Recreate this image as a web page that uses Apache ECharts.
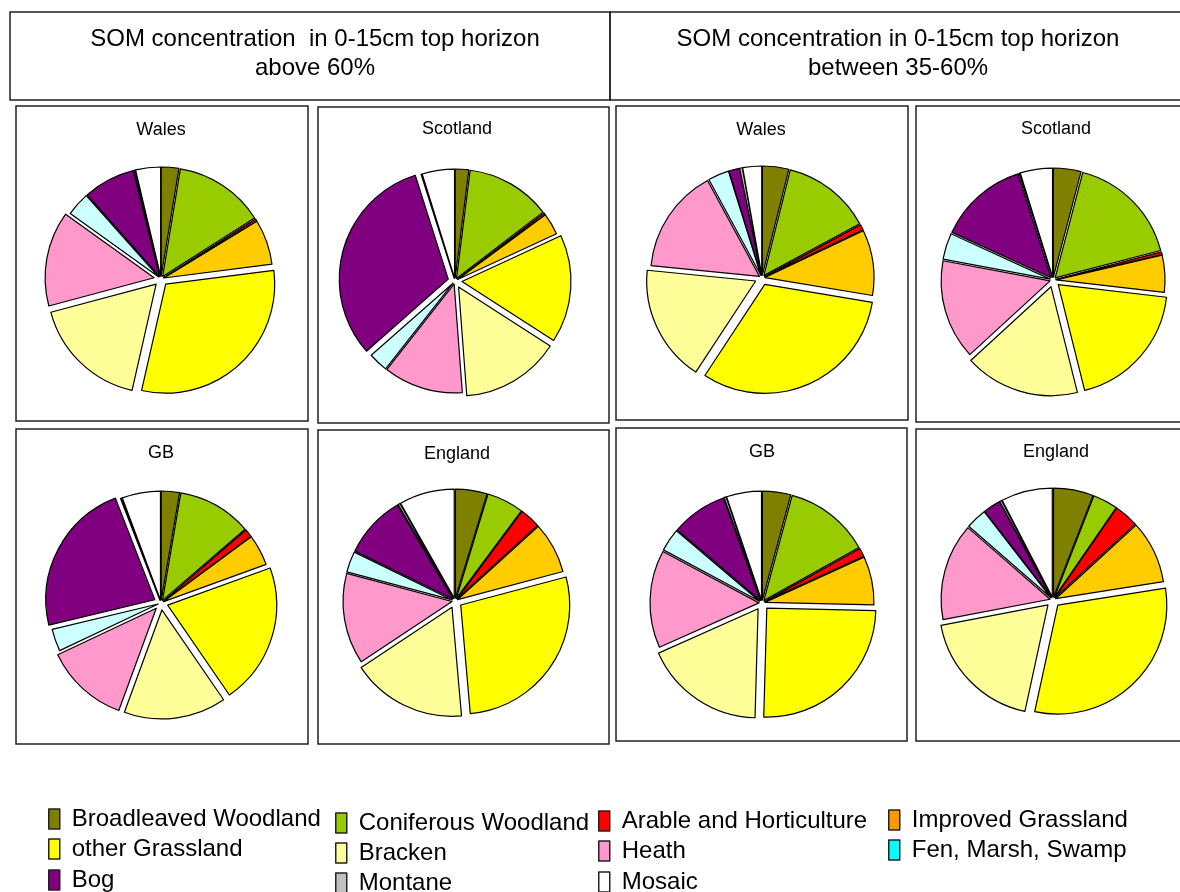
<!DOCTYPE html>
<html>
<head>
<meta charset="utf-8">
<script src="https://cdn.jsdelivr.net/npm/echarts@6/dist/echarts.min.js"></script>
<style>
html,body{margin:0;padding:0;background:#fff;}
#chart{width:1180px;height:892px;}
</style>
</head>
<body>
<div id="chart"></div>
<script>
// ---------- DATA ----------
const categories = ['Broadleaved Woodland','Coniferous Woodland','Arable and Horticulture','Improved Grassland',
  'other Grassland','Bracken','Heath','Fen, Marsh, Swamp','Bog','Montane','Mosaic'];
const headerLeft = 'SOM concentration  in 0-15cm top horizon\nabove 60%';
const headerRight = 'SOM concentration in 0-15cm top horizon\nbetween 35-60%';
const panelTitles = ['Wales','Scotland','Wales','Scotland','GB','England','GB','England'];

// percentage shares, in category order
const walesAbove60     = [2.6, 13.4, 0.3, 6.7, 30.6, 17.3, 14.1, 3.5, 7.7, 0.2, 3.7];
const scotlandAbove60  = [2.0, 12.6, 0.3, 3.2, 16.0, 14.7, 11.8, 2.9, 31.6, 0.1, 4.8];
const walesMid         = [3.9, 13.2, 0.8, 9.7, 31.6, 17.3, 15.5, 3.1, 1.6, 0.4, 2.8];
const scotlandMid      = [4.1, 16.9, 0.4, 5.5, 19.3, 17.1, 14.8, 3.9, 13.3, 0.1, 4.8];
const gbAbove60        = [2.7, 11.0, 1.2, 4.6, 21.0, 15.2, 12.4, 3.3, 22.9, 0.2, 5.7];
const englandAbove60   = [4.7, 5.5, 3.1, 7.6, 27.8, 17.1, 13.5, 3.1, 9.3, 0.3, 8.2];
const gbMid            = [4.2, 12.7, 1.3, 7.2, 25.1, 17.9, 14.5, 3.4, 8.3, 0.3, 5.2];
const englandMid       = [5.9, 3.7, 3.6, 9.3, 30.9, 18.6, 14.4, 3.1, 2.6, 0.3, 7.6];

// ---------- STYLE / LAYOUT ----------
const pieColors = ['#808000','#99CC00','#FF0000','#FFCC00','#FFFF00','#FFFF99','#FF99CC','#CCFFFF','#800080','#C0C0C0','#FFFFFF'];
const legendColors = ['#808000','#99CC00','#FF0000','#FF9900','#FFFF00','#FFFF99','#FF99CC','#00FFFF','#800080','#C0C0C0','#FFFFFF'];

const pies = [
  {values: walesAbove60,    center:[161,279], box:[16,106,292,315],  title:[161,129], big:[4,5,6]},
  {values: scotlandAbove60, center:[455,281], box:[318,107,291,316], title:[457,128], big:[4,5,8]},
  {values: walesMid,        center:[762,278], box:[616,106,292,314], title:[761,129], big:[4,5]},
  {values: scotlandMid,     center:[1053,280],box:[916,106,280,316], title:[1056,128], big:[4,5]},
  {values: gbAbove60,       center:[161,603], box:[16,429,292,315],  title:[161,452], big:[4,5,6,8]},
  {values: englandAbove60,  center:[455,601], box:[318,430,291,314], title:[457,453], big:[4,5]},
  {values: gbMid,           center:[762,603], box:[616,428,291,313], title:[762,451], big:[4,5]},
  {values: englandMid,      center:[1053,600],box:[916,429,280,312], title:[1056,451], big:[4,5]}
];
const R = 109;
const FONT = '"Liberation Sans", Arial, sans-serif';

function makeSeries(p){
  const mk = (large) => ({
    type:'pie', center:p.center, radius:R, startAngle:90, clockwise:true,
    silent:true, animation:false, selectedMode:'multiple', selectedOffset: large ? 7 : 3,
    label:{show:false}, labelLine:{show:false}, emphasis:{disabled:true},
    data: p.values.map((v,i)=>{
      const vis = p.big.includes(i) === large;
      const st = vis ? {color:pieColors[i], borderColor:'#000', borderWidth:1.2}
                     : {color:'rgba(0,0,0,0)', borderColor:'rgba(0,0,0,0)', borderWidth:0};
      return {name:categories[i], value:v, selected:true, itemStyle:st, select:{itemStyle:st}};
    })
  });
  return [mk(false), mk(true)];
}

const series = [];
pies.forEach(p => series.push(...makeSeries(p)));

const headerStyle = {fontFamily:FONT, fontSize:24, fontWeight:'normal', color:'#000', lineHeight:29};
const titles = [
  {text:headerLeft, left:315, top:25, textAlign:'center', padding:0, textStyle:headerStyle},
  {text:headerRight, left:898, top:25, textAlign:'center', padding:0, textStyle:headerStyle}
];
pies.forEach((p,i)=>titles.push({text:panelTitles[i], left:p.title[0], top:p.title[1]-9, padding:0, textAlign:'center',
  textStyle:{fontFamily:FONT, fontSize:18, fontWeight:'normal', color:'#000', lineHeight:20}}));

const graphics = [
  {type:'rect', shape:{x:10,y:12,width:600,height:88}, style:{fill:'none', stroke:'#222', lineWidth:1.5}},
  {type:'rect', shape:{x:610,y:12,width:580,height:88}, style:{fill:'none', stroke:'#222', lineWidth:1.5}}
];
pies.forEach(p=>graphics.push({type:'rect', z:-1, shape:{x:p.box[0],y:p.box[1],width:p.box[2],height:p.box[3]},
  style:{fill:'#fff', stroke:'#222', lineWidth:1.5}}));

// legend item placement: [iconLeft, centerY] per category
const legendPos = [
  [48,817],[335,821],[598,819],[888,818],
  [48,847],[335,851],[598,849],[888,848],
  [48,878],[335,881],[598,880]
];
const legends = categories.map((name,i)=>({
  left:legendPos[i][0], top:legendPos[i][1]-10, padding:0, itemWidth:11, itemHeight:20,
  selectedMode:false, icon:'rect',
  textStyle:{fontFamily:FONT, fontSize:24, color:'#000', lineHeight:20, padding:[0,0,0,7]},
  data:[{name:name, icon:'rect', itemStyle:{color:legendColors[i], borderColor:'#222', borderWidth:1.5}}]
}));

const chart = echarts.init(document.getElementById('chart'), null, {renderer:'canvas'});
chart.setOption({
  backgroundColor:'#fff',
  animation:false,
  title:titles,
  legend:legends,
  graphic:graphics,
  series:series
});
</script>
</body>
</html>
